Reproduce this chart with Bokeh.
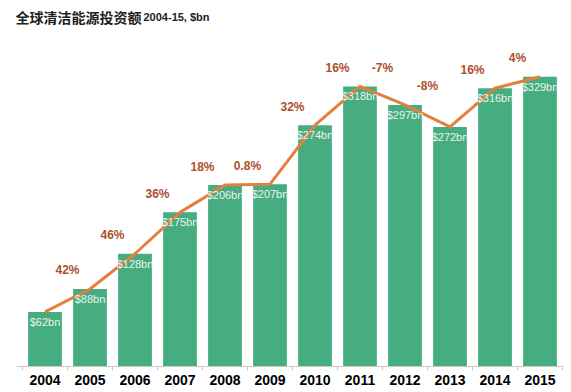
from bokeh.plotting import figure
from bokeh.models import ColumnDataSource, FixedTicker, Range1d
from bokeh.core.properties import value
from bokeh.embed import file_html
from bokeh.resources import INLINE

years = ["2004", "2005", "2006", "2007", "2008", "2009", "2010", "2011", "2012", "2013", "2014", "2015"]
invest = [62, 88, 128, 175, 206, 207, 274, 318, 297, 272, 316, 329]
growth = ["42%", "46%", "36%", "18%", "0.8%", "32%", "16%", "-7%", "-8%", "16%", "4%"]
title_main = "全球清洁能源投资额"
title_sub = "2004-15, $bn"

xs = list(range(len(years)))
bar_src = ColumnDataSource(dict(
    x=xs, top=invest, lab=["$%dbn" % v for v in invest]))
g_src = ColumnDataSource(dict(
    x=[i + 0.5 for i in range(len(growth))],
    y=[max(invest[i], invest[i + 1]) + 21 for i in range(len(growth))],
    lab=growth))

x_start = -0.5 - 7 / 45
y_end = 411
p = figure(width=565, height=390, output_backend="svg", toolbar_location=None,
           x_range=Range1d(x_start, len(years) - 0.5), y_range=Range1d(0, y_end),
           min_border_left=15, min_border_right=3, min_border_top=4, min_border_bottom=24)
p.outline_line_color = None
p.xgrid.visible = False
p.ygrid.visible = False
p.yaxis.visible = False
p.background_fill_color = "white"

p.vbar(x="x", top="top", width=0.75, bottom=0, source=bar_src,
       fill_color="#45ad7f", line_color=None)
p.line(x="x", y="top", source=bar_src, line_color="#e2803f", line_width=3)
p.text(x="x", y="top", text="lab", source=bar_src, text_align="center",
       text_baseline="middle", y_offset=10, text_font=value("Liberation Sans"),
       text_font_size="11px", text_color="#eef2ee")
p.text(x="x", y="y", text="lab", source=g_src, text_align="center",
       text_baseline="middle", text_font=value("Liberation Sans"),
       text_font_size="12px", text_font_style="bold", text_color="#ad4f2a")

p.text(x=[x_start], y=[y_end - 14], text=[title_main], text_align="left",
       text_baseline="middle", text_font=value("Noto Sans CJK SC"),
       text_font_size="14px", text_font_style="bold", text_color="#222222")
p.text(x=[x_start], y=[y_end - 14], text=[title_sub], x_offset=128, text_align="left",
       text_baseline="middle", text_font=value("Liberation Sans"),
       text_font_size="11px", text_font_style="bold", text_color="#222222")

ax = p.xaxis[0]
ax.ticker = FixedTicker(ticks=xs, minor_ticks=[i - 0.5 for i in range(len(years) + 1)])
ax.major_label_overrides = {i: y for i, y in enumerate(years)}
ax.major_tick_line_color = None
ax.major_tick_out = 0
ax.major_tick_in = 0
ax.minor_tick_out = 4
ax.minor_tick_in = 0
ax.minor_tick_line_color = "#c8c8c8"
ax.axis_line_color = "#c8c8c8"
ax.major_label_standoff = 4
ax.major_label_text_font = "Liberation Sans"
ax.major_label_text_font_size = "14px"
ax.major_label_text_font_style = "bold"
ax.major_label_text_color = "black"

open("out.html", "w").write(file_html(p, INLINE))
